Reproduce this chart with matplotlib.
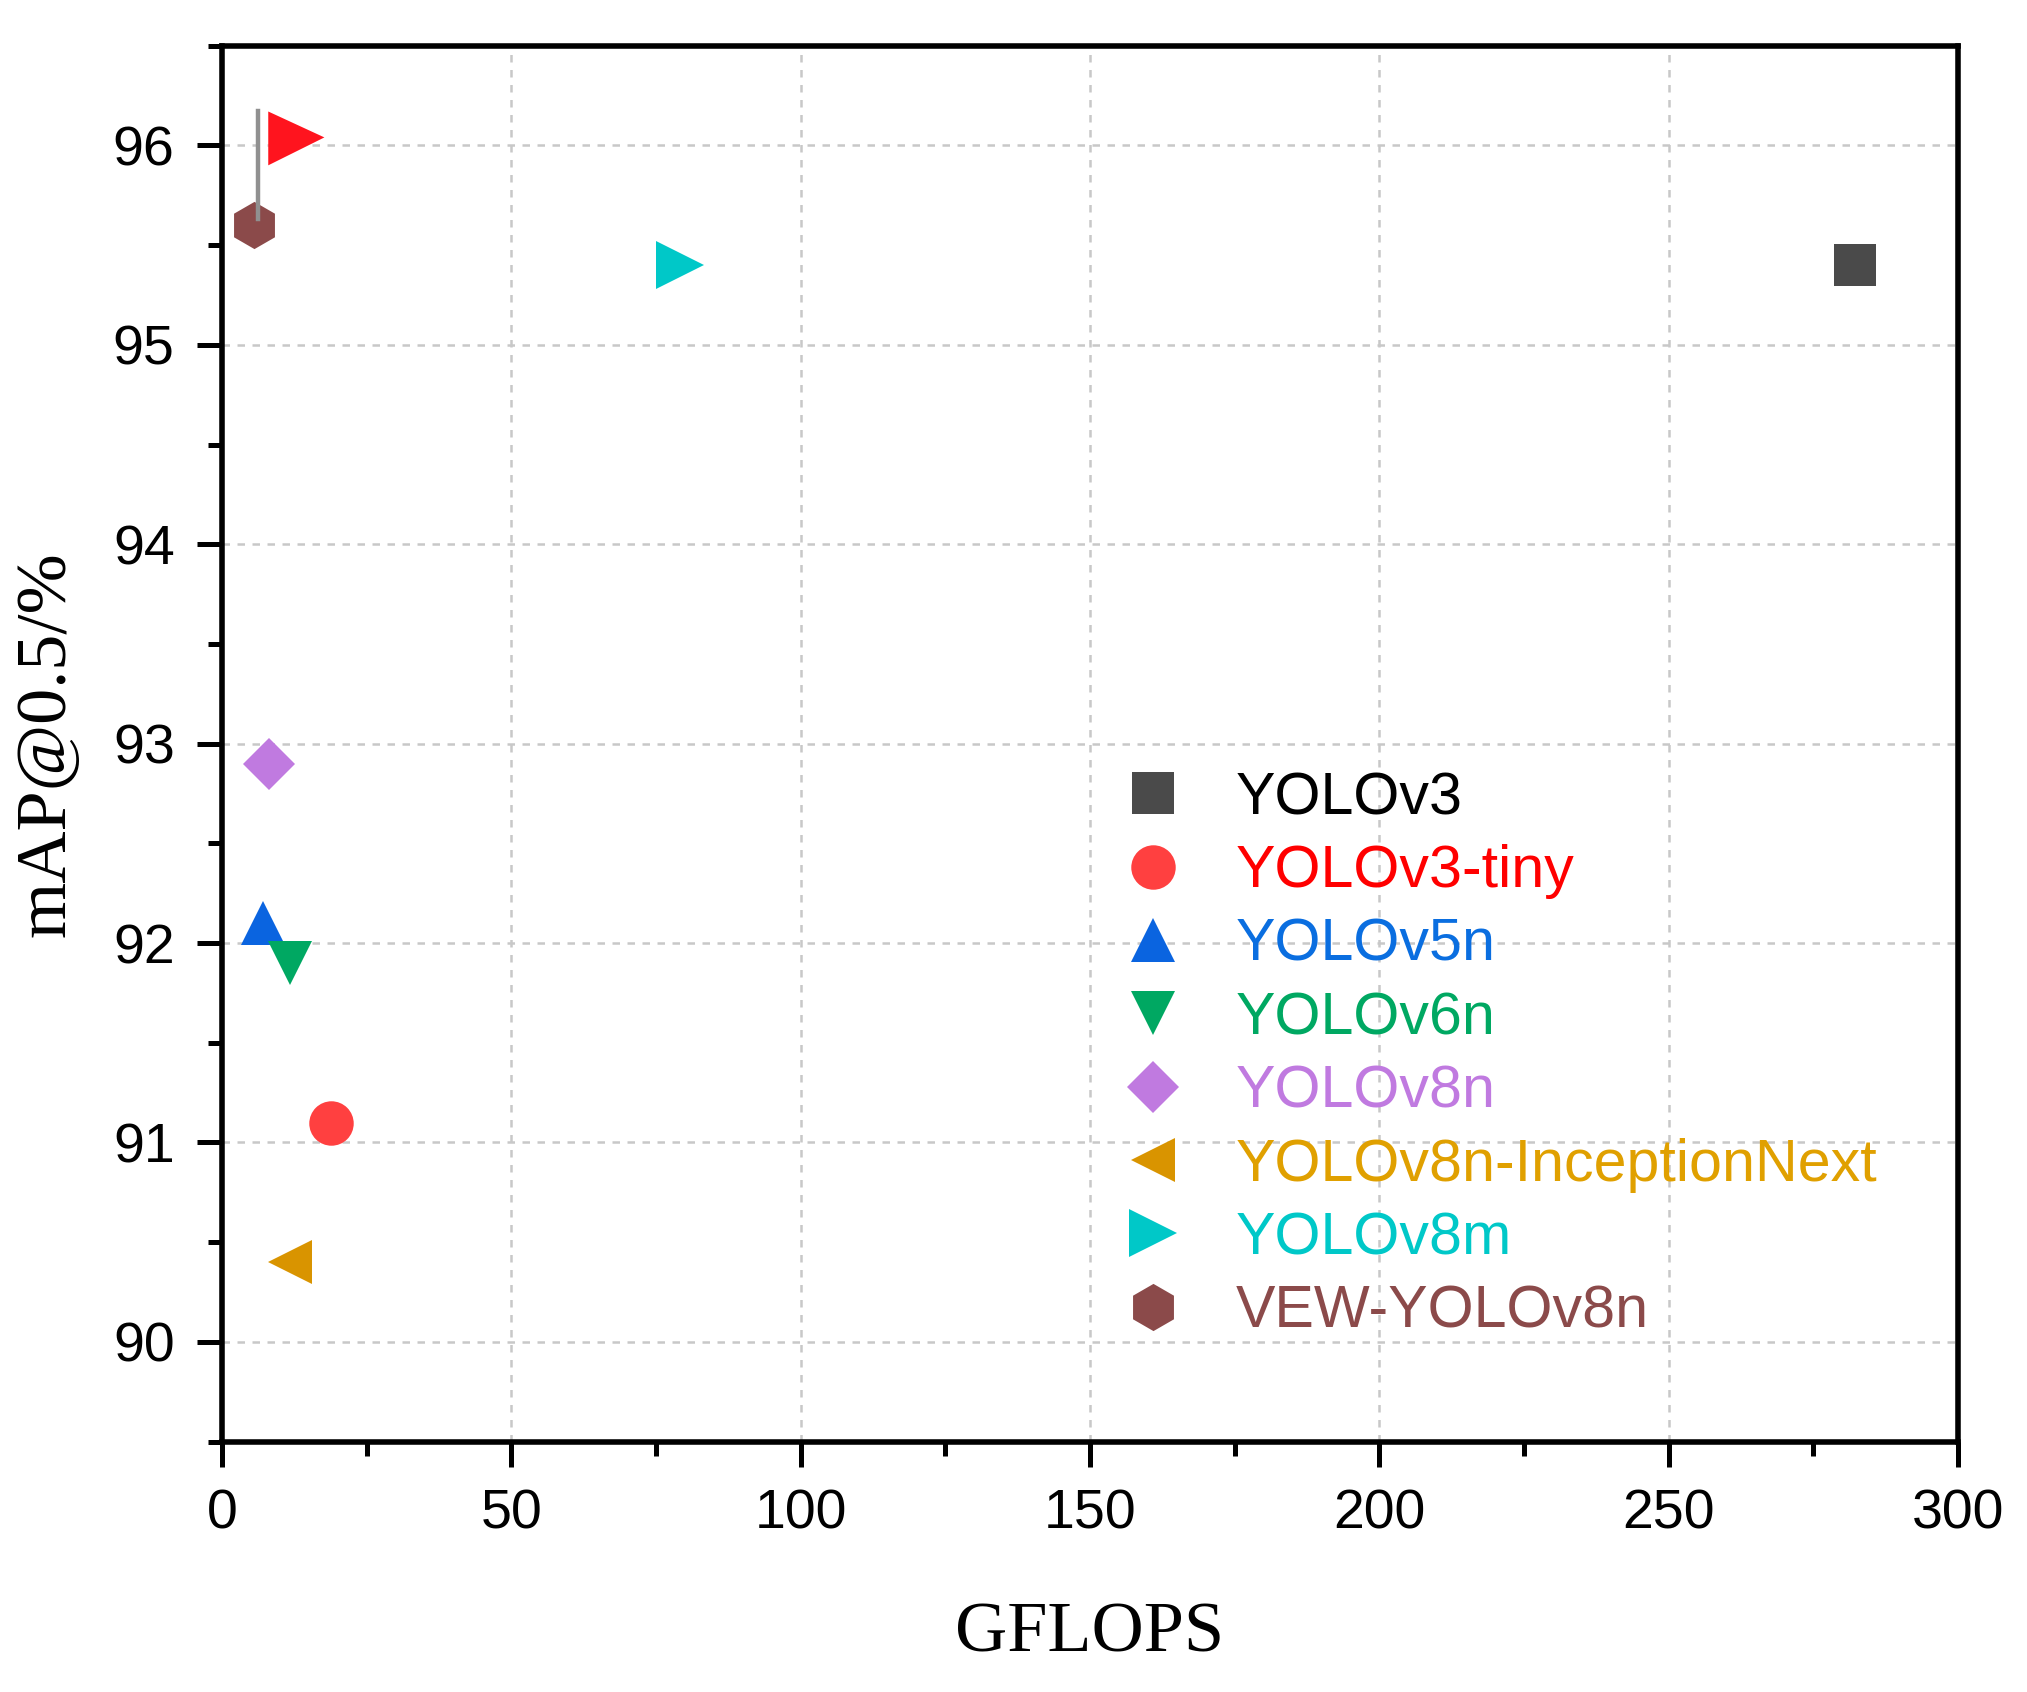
import matplotlib
matplotlib.use("Agg")
import matplotlib.pyplot as plt
from matplotlib.lines import Line2D
from matplotlib.patches import Polygon

# data
models = ["YOLOv3", "YOLOv3-tiny", "YOLOv5n", "YOLOv6n", "YOLOv8n",
          "YOLOv8n-InceptionNext", "YOLOv8m", "VEW-YOLOv8n"]
gflops = [282.2, 18.9, 7.1, 11.8, 8.1, 11.8, 79.1, 5.5]
map50 = [95.4, 91.1, 92.1, 91.9, 92.9, 90.4, 95.4, 95.6]
markers = ["s", "o", "^", "v", "D", "<", ">", "h"]
marker_colors = ["#4a4a4a", "#ff4040", "#0a64e0", "#00a862", "#c07ae0",
                 "#d99400", "#00c8c8", "#8b4a4a"]
text_colors = ["#000000", "#ff0000", "#0a6ee0", "#00a862", "#c07ae0",
               "#e0a000", "#00c8c8", "#8b4a4a"]
marker_sizes = [15, 16, 16, 16, 13, 16, 17, 17]

# flag over the best model
flag_x = 6.2
flag_base = 95.63
flag_top = 96.17

plt.rcParams["font.family"] = ["Liberation Sans", "DejaVu Sans"]

fig = plt.figure(figsize=(10.135, 8.46), dpi=200)
ax = fig.add_axes([0.1095, 0.148, 0.8565, 0.825])

for i in range(len(models)):
    ax.plot(gflops[i], map50[i], linestyle="none", marker=markers[i],
            markersize=marker_sizes[i], color=marker_colors[i],
            markeredgewidth=0, zorder=3)

# flag pole + pennant
ax.plot([flag_x, flag_x], [flag_base, flag_top], color="#909090", lw=1.6, zorder=4)
ax.add_patch(Polygon([(flag_x + 1.8, flag_top), (flag_x + 1.8, flag_top - 0.27),
                      (flag_x + 11.5, flag_top - 0.13)],
                     closed=True, color="#ff141e", lw=0, zorder=4))

ax.set_xlim(0, 300)
ax.set_ylim(89.5, 96.5)
ax.set_xticks(range(0, 301, 50))
ax.set_xticks(range(25, 300, 50), minor=True)
ax.set_yticks(range(90, 97))
ax.set_yticks([89.5 + 0.5 * k for k in range(0, 15, 2)], minor=True)

ax.grid(True, which="major", color="#c8c8c8", linestyle=(0, (3, 3)), lw=0.9)
ax.set_axisbelow(True)

for s in ax.spines.values():
    s.set_linewidth(2.0)
ax.tick_params(which="major", direction="out", length=9, width=1.8,
               labelsize=20, pad=8, top=False, right=False)
ax.tick_params(which="minor", direction="out", length=5, width=1.8,
               top=False, right=False)

ax.set_xlabel("GFLOPS", family="Liberation Serif", fontsize=26, labelpad=22)
ax.set_ylabel("mAP@0.5/%", family="Liberation Serif", fontsize=26, labelpad=12)

handles = [Line2D([], [], linestyle="none", marker=markers[i],
                  markersize=marker_sizes[i], color=marker_colors[i],
                  markeredgewidth=0) for i in range(len(models))]
leg = ax.legend(handles, models, frameon=False, fontsize=21.3,
                loc="upper left", bbox_to_anchor=(0.502, 0.5015),
                handlelength=1.0, handletextpad=0.9, labelspacing=0.31,
                borderpad=0)
for t, c in zip(leg.get_texts(), text_colors):
    t.set_color(c)

fig.savefig("out.png", dpi=200)
